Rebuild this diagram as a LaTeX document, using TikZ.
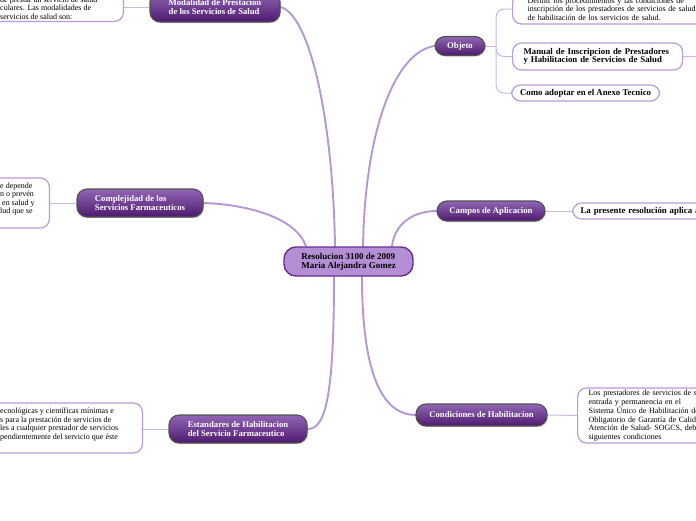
\documentclass[tikz,border=0pt]{standalone}
\usepackage{fontspec}
\setmainfont{Liberation Serif}
\usetikzlibrary{shadows}
\pgfdeclarelayer{background}
\pgfsetlayers{background,main}
\definecolor{cfill}{HTML}{B58FD6}
\definecolor{cborder}{HTML}{6B2C8F}
\definecolor{mtop}{HTML}{9066B4}
\definecolor{mmid}{HTML}{6A2D92}
\definecolor{mbot}{HTML}{4F196E}
\definecolor{mborder}{HTML}{505050}
\definecolor{thickc}{HTML}{B597D3}
\definecolor{thinc}{HTML}{CDB8E0}
\definecolor{lborder}{HTML}{B99BD6}
\begin{document}
\begin{tikzpicture}[x=1pt,y=-1pt,
  central/.style={draw=cborder, line width=1.4pt, fill=cfill, rounded corners=12pt,
    minimum width=129pt, minimum height=29pt, inner sep=0pt, align=left,
    font=\fontsize{9}{8.8}\selectfont\bfseries},
  mainbox/.style={draw=mborder, line width=1.1pt, top color=mtop, middle color=mmid, bottom color=mbot,
    rounded corners=10pt, text=white, inner sep=0pt, align=left,
    font=\fontsize{8.7}{8.6}\selectfont\bfseries,
    drop shadow={opacity=0.3, shadow xshift=1pt, shadow yshift=-1.2pt}},
  leaf/.style={draw=lborder, line width=1.2pt, fill=white, rounded corners=9pt, align=left,
    inner ysep=2pt, font=\fontsize{8}{8.4}\selectfont},
  leafbold/.style={leaf, font=\fontsize{8.8}{8.6}\selectfont\bfseries},
  leaftext/.style={inner sep=0pt, align=left, font=\fontsize{8}{8.4}\selectfont},
  thickline/.style={draw=thickc, line width=1.9pt, line cap=round},
  thinline/.style={draw=thinc, line width=1pt}
]
\useasboundingbox (0,0) rectangle (696,520);
\clip (0,0) rectangle (696,520);

\coordinate (osplit) at (496,46);
\coordinate (o2next) at (720,57);

% central node
\node[central] (c) at (348.5,261.5) {Resolucion 3100 de 2009\\Maria Alejandra Gomez};

% main branch nodes
\node[mainbox, minimum width=130pt, minimum height=30pt] (mod) at (215,7) {Modalidad de Prestacion\\de los Servicios de Salud};
\node[mainbox, minimum width=126pt, minimum height=28pt] (comp) at (140,203) {Complejidad de los\\Servicios Farmaceuticos};
\node[mainbox, minimum width=138pt, minimum height=28pt] (est) at (238,429) {Estandares de Habilitacion\\del Servicio Farmaceutico};
\node[mainbox, minimum width=50pt, minimum height=19pt] (obj) at (460,46) {Objeto};
\node[mainbox, minimum width=108pt, minimum height=20pt] (camp) at (491,211) {Campos de Aplicacion};
\node[mainbox, minimum width=131pt, minimum height=22pt] (cond) at (481.5,415) {Condiciones de Habilitacion};

% leaves on the left (cut by the edge)
\node[leaf, minimum width=220pt, minimum height=60pt, anchor=south east] (modleaf) at (124,22) {};
\node[leaftext, anchor=west] (modtext) at (0,8) {de prestar un servicio de salud\\culares. Las modalidades de\\servicios de salud son:};
\node[leaf, minimum width=170pt, minimum height=50pt, anchor=east] (compleaf) at (50,203) {};
\node[leaftext, anchor=west] (comptext) at (0,199) {e depende\\n o prevén\\\hspace*{2pt}en salud y\\lud que se};
\node[leaf, minimum width=220pt, minimum height=50pt, anchor=east] (estleaf) at (143,428) {};
\node[leaftext, anchor=west] (esttext) at (0,424.5) {ecnológicas y científicas mínimas e\\s para la prestación de servicios de\\les a cualquier prestador de servicios\\pendientemente del servicio que éste};

% leaves on the right
\node[leaf, anchor=west, text width=230pt, inner xsep=15pt, minimum height=30pt] (o1) at (512,9) {Definir los procedimientos y las condiciones de\\inscripción de los prestadores de servicios de salud\\de habilitación de los servicios de salud.};
\node[leafbold, anchor=west, text width=148pt, inner xsep=11pt, minimum height=27pt] (o2) at (512,56.5) {Manual de Inscripcion de Prestadores\\y Habilitacion de Servicios de Salud};
\node[leafbold, anchor=west, minimum width=148pt, inner xsep=5pt, minimum height=16pt] (o3) at (511,93) {Como adoptar en el Anexo Tecnico};
\node[leafbold, anchor=west, text width=220pt, inner xsep=8pt, minimum height=16pt] (cl) at (572,211) {La presente resolución aplica a};
\node[leaf, anchor=west, text width=220pt, inner xsep=11pt, minimum height=55pt] (dl) at (577,415.5) {Los prestadores de servicios de salud\\entrada y permanencia en el\\Sistema Único de Habilitación de\\Obligatorio de Garantía de Calidad\\Atención de Salud- SOGCS, deben\\siguientes condiciones};

\begin{pgfonlayer}{background}
% thick connectors from the central node
\draw[thickline] ([xshift=-13.5pt]c.north) .. controls (333,120) and (310,15) .. (mod.east);
\draw[thickline] ([xshift=-42.5pt]c.north) .. controls (295,215) and (240,204) .. (comp.east);
\draw[thickline] ([xshift=14.5pt]c.north) .. controls (365,130) and (395,52) .. (obj.west);
\draw[thickline] ([xshift=43.5pt]c.north) .. controls (395,222) and (415,211) .. (camp.west);
\draw[thickline] ([xshift=-14.5pt]c.south) .. controls (334,400) and (325,429) .. (est.east);
\draw[thickline] ([xshift=13.5pt]c.south) .. controls (362,380) and (385,415) .. (cond.west);

% thin connectors to leaves
\draw[thinline] (mod.west) -- (mod.west -| modleaf.east);
\draw[thinline] (comp.west) -- (compleaf.east);
\draw[thinline] (est.west) -- (est.west -| estleaf.east);
\draw[thinline] (obj.east) -- (osplit);
\draw[thinline, rounded corners=8pt] (osplit) |- (o1.west);
\draw[thinline, rounded corners=8pt] (osplit) |- (o2.west);
\draw[thinline, rounded corners=8pt] (osplit) |- (o3.west);
\draw[thinline] (o2.east) -- (o2next);
\draw[thinline] (camp.east) -- (cl.west);
\draw[thinline] (cond.east) -- (dl.west);
\end{pgfonlayer}
\end{tikzpicture}
\end{document}
